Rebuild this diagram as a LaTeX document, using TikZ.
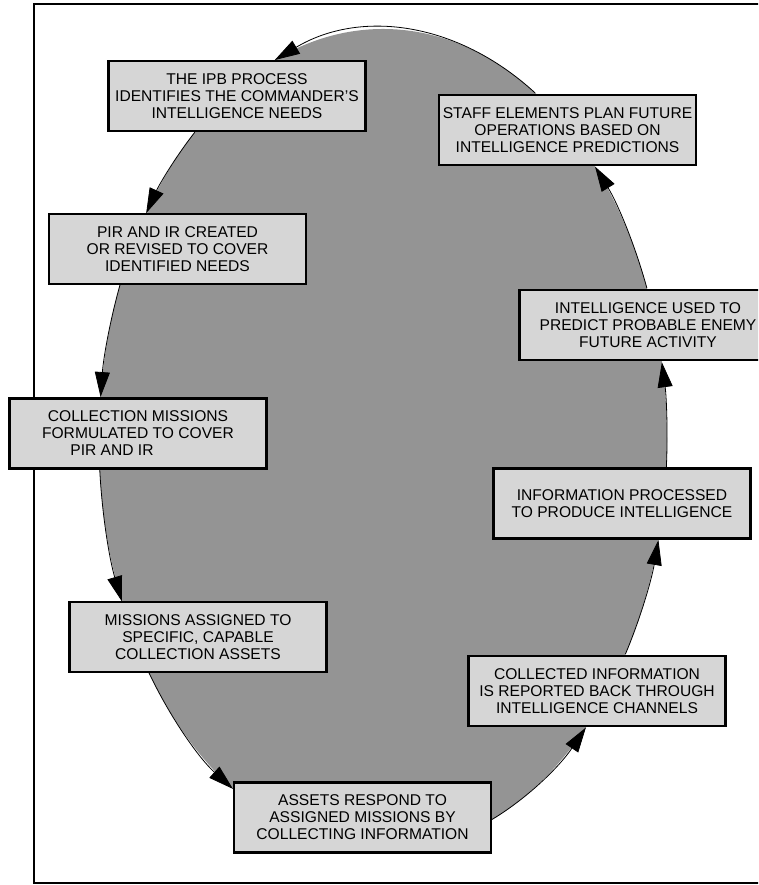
\documentclass[tikz,border=0pt]{standalone}
\usepackage{fontspec}
\setmainfont{Liberation Sans}
\usetikzlibrary{arrows.meta}
\definecolor{ellfill}{gray}{0.58}
\definecolor{boxfill}{gray}{0.84}
\begin{document}
\begin{tikzpicture}[x=1pt,y=1pt,
  stepbox/.style={draw=black,line width=2.8pt,fill=boxfill,minimum width=257pt,minimum height=70pt,inner sep=0pt,align=center,font=\fontsize{15.6}{17}\selectfont},
  conn/.style={draw=black,line width=0.8pt,-{Triangle[length=25pt,width=15pt]}}]
\useasboundingbox (0,0) rectangle (758,885);
\clip (0,0) rectangle (758,885);
\fill[white] (0,0) rectangle (758,885);
\draw[line width=2.5pt] (34,2) rectangle (800,881);
\coordinate (c) at (383,445);
\fill[ellfill] (c) ellipse [x radius=284, y radius=411];
% boxes
\node[stepbox] (b1) at (237,789) {THE IPB PROCESS\\IDENTIFIES THE COMMANDER'S\\INTELLIGENCE NEEDS};
\node[stepbox] (b2) at (177.5,636) {PIR AND IR CREATED\\OR REVISED TO COVER\\IDENTIFIED NEEDS};
\node[stepbox] (b3) at (138,451.5) {COLLECTION MISSIONS\\FORMULATED TO COVER\\PIR AND IR\hspace*{52pt}};
\node[stepbox] (b4) at (198,248) {MISSIONS ASSIGNED TO\\SPECIFIC, CAPABLE\\COLLECTION ASSETS};
\node[stepbox] (b5) at (362.5,67.5) {ASSETS RESPOND TO\\ASSIGNED MISSIONS BY\\COLLECTING INFORMATION};
\node[stepbox] (b6) at (597,194) {COLLECTED INFORMATION\\IS REPORTED BACK THROUGH\\INTELLIGENCE CHANNELS};
\node[stepbox] (b7) at (622,381.5) {INFORMATION PROCESSED\\TO PRODUCE INTELLIGENCE};
\node[stepbox] (b8) at (648,560) {INTELLIGENCE USED TO\\PREDICT PROBABLE ENEMY\\FUTURE ACTIVITY};
\node[stepbox] (b9) at (567.5,755) {STAFF ELEMENTS PLAN FUTURE\\OPERATIONS BASED ON\\INTELLIGENCE PREDICTIONS};
% exit points on the ellipse
\coordinate (e1) at ([shift={(c)}]131.5:284 and 411);
\coordinate (e2) at ([shift={(c)}]157.8:284 and 411);
\coordinate (e3) at ([shift={(c)}]184.2:284 and 411);
\coordinate (e4) at ([shift={(c)}]214.5:284 and 411);
\coordinate (e5) at ([shift={(c)}]292.6:284 and 411);
\coordinate (e6) at ([shift={(c)}]328.6:284 and 411);
\coordinate (e7) at ([shift={(c)}]356.2:284 and 411);
\coordinate (e8) at ([shift={(c)}]21.7:284 and 411);
\coordinate (e9) at ([shift={(c)}]57.6:284 and 411);
% connectors along the ellipse
\draw[conn] (e1) arc[start angle=131.5, end angle=146.5, x radius=284, y radius=411];
\draw[conn] (e2) arc[start angle=157.8, end angle=174.0, x radius=284, y radius=411];
\draw[conn] (e3) arc[start angle=184.2, end angle=203.1, x radius=284, y radius=411];
\draw[conn] (e4) arc[start angle=214.5, end angle=238.1, x radius=284, y radius=411];
\draw[conn] (e5) arc[start angle=292.6, end angle=315.6, x radius=284, y radius=411];
\draw[conn] (e6) arc[start angle=328.6, end angle=345.9, x radius=284, y radius=411];
\draw[conn] (e7) arc[start angle=356.2, end angle=370.9, x radius=284, y radius=411];
\draw[conn] (e8) arc[start angle=21.7, end angle=41.7, x radius=284, y radius=411];
\draw[conn] (e9) arc[start angle=57.6, end angle=112.4, x radius=284, y radius=411];
\end{tikzpicture}
\end{document}
